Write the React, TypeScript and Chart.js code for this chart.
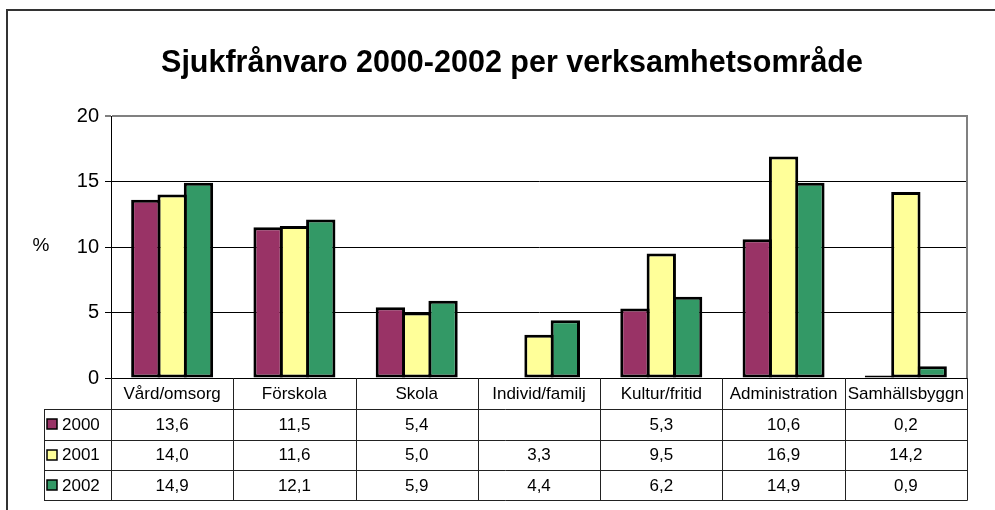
import React, { useEffect, useRef } from "react";
import { Chart, registerables } from "chart.js";

Chart.register(...registerables);

const TITLE = "Sjukfrånvaro 2000-2002 per verksamhetsområde";
const Y_LABEL = "%";
const categories = [
  "Vård/omsorg",
  "Förskola",
  "Skola",
  "Individ/familj",
  "Kultur/fritid",
  "Administration",
  "Samhällsbyggn",
];
const seriesNames = ["2000", "2001", "2002"];
const values2000: (number | null)[] = [13.6, 11.5, 5.4, null, 5.3, 10.6, 0.2];
const values2001: (number | null)[] = [14.0, 11.6, 5.0, 3.3, 9.5, 16.9, 14.2];
const values2002: (number | null)[] = [14.9, 12.1, 5.9, 4.4, 6.2, 14.9, 0.9];
const seriesColors = ["#993366", "#FFFF99", "#339966"];
const yTicks = [0, 5, 10, 15, 20];

const FONT = '"Liberation Sans", Arial, sans-serif';

const allSeries = [values2000, values2001, values2002];

const fmt = (v: number | null) => (v === null ? "" : v.toFixed(1).replace(".", ","));

const framePlugin = {
  id: "frame",
  beforeDraw(chart: any) {
    const { ctx, width, height } = chart;
    ctx.save();
    ctx.fillStyle = "#fff";
    ctx.fillRect(0, 0, width, height);
    ctx.strokeStyle = "#333";
    ctx.lineWidth = 2;
    ctx.beginPath();
    ctx.moveTo(7, height);
    ctx.lineTo(7, 10);
    ctx.lineTo(width, 10);
    ctx.stroke();
    ctx.fillStyle = "#000";
    ctx.font = `bold 30.5px ${FONT}`;
    ctx.textAlign = "center";
    ctx.textBaseline = "middle";
    ctx.fillText(TITLE, 512, 64);
    ctx.restore();
  },
  beforeDatasetsDraw(chart: any) {
    const { ctx, chartArea: ca } = chart;
    ctx.save();
    ctx.strokeStyle = "#808080";
    ctx.lineWidth = 2;
    ctx.beginPath();
    ctx.moveTo(ca.right, ca.top - 1);
    ctx.lineTo(ca.right, ca.bottom);
    ctx.stroke();
    ctx.restore();
  },
};

const tablePlugin = {
  id: "dataTable",
  afterDraw(chart: any) {
    const { ctx, chartArea: ca } = chart;
    const n = categories.length;
    const cw = (ca.right - ca.left) / n;
    const rows = [ca.bottom, 409, 439.5, 470, 500];
    const legendLeft = 44;
    ctx.save();
    ctx.strokeStyle = "#222";
    ctx.lineWidth = 1;
    ctx.beginPath();
    for (let r = 1; r < rows.length; r++) {
      const y = Math.round(rows[r]) + 0.5;
      ctx.moveTo(legendLeft, y);
      ctx.lineTo(ca.right + 0.5, y);
    }
    for (let i = 0; i <= n; i++) {
      const x = Math.round(ca.left + i * cw) + 0.5;
      ctx.moveTo(x, ca.bottom);
      ctx.lineTo(x, Math.round(rows[4]) + 0.5);
    }
    ctx.moveTo(legendLeft + 0.5, Math.round(rows[1]));
    ctx.lineTo(legendLeft + 0.5, Math.round(rows[4]) + 0.5);
    ctx.stroke();

    ctx.fillStyle = "#000";
    ctx.font = `17px ${FONT}`;
    ctx.textBaseline = "middle";
    ctx.textAlign = "center";
    for (let i = 0; i < n; i++) {
      const cx = ca.left + (i + 0.5) * cw;
      ctx.fillText(categories[i], cx, (rows[0] + rows[1]) / 2 + 1);
      for (let s = 0; s < allSeries.length; s++) {
        ctx.fillText(fmt(allSeries[s][i]), cx, (rows[s + 1] + rows[s + 2]) / 2 + 1);
      }
    }
    for (let s = 0; s < seriesNames.length; s++) {
      const cy = (rows[s + 1] + rows[s + 2]) / 2;
      ctx.fillStyle = seriesColors[s];
      ctx.fillRect(47, Math.round(cy - 5), 10, 10);
      ctx.strokeStyle = "#000";
      ctx.lineWidth = 1.5;
      ctx.strokeRect(47, Math.round(cy - 5), 10, 10);
      ctx.fillStyle = "#000";
      ctx.textAlign = "left";
      ctx.fillText(seriesNames[s], 62, cy + 1);
    }
    ctx.font = `19px ${FONT}`;
    ctx.textAlign = "center";
    ctx.fillText(Y_LABEL, 41, 246);
    ctx.restore();
  },
};

export default function App() {
  const ref = useRef<HTMLCanvasElement | null>(null);
  useEffect(() => {
    if (!ref.current) return;
    const chart = new Chart(ref.current, {
      type: "bar",
      data: {
        labels: categories,
        datasets: allSeries.map((vals, i) => ({
          label: seriesNames[i],
          data: vals,
          backgroundColor: seriesColors[i],
          borderColor: "#000",
          borderWidth: 3,
          borderSkipped: false,
          inflateAmount: 0,
          categoryPercentage: 0.646,
          barPercentage: 1.114,
        })),
      },
      options: {
        responsive: false,
        animation: false,
        layout: { padding: { top: 116, right: 28, bottom: 0, left: 0 } },
        plugins: {
          legend: { display: false },
          tooltip: { enabled: false },
          title: { display: false },
        },
        scales: {
          x: {
            grid: { display: false },
            ticks: { display: false },
            border: { color: "#000", width: 1 },
            afterFit: (s: any) => {
              s.height = 132;
            },
          },
          y: {
            min: yTicks[0],
            max: yTicks[yTicks.length - 1],
            afterBuildTicks: (s: any) => {
              s.ticks = yTicks.map((v) => ({ value: v }));
            },
            ticks: {
              color: "#000",
              font: { family: FONT, size: 20 },
              padding: 6,
            },
            grid: {
              color: (c: any) => (c.tick && c.tick.value === 20 ? "#808080" : "#000"),
              lineWidth: (c: any) => (c.tick && c.tick.value === 20 ? 2 : 1),
              tickColor: "#000",
              tickLength: 6,
              tickWidth: 1,
            },
            border: { color: "#000", width: 1 },
            afterFit: (s: any) => {
              s.width = 111;
            },
          },
        },
      } as any,
      plugins: [framePlugin, tablePlugin],
    });
    return () => chart.destroy();
  }, []);
  return (
    <div style={{ position: "absolute", left: 0, top: 0, width: 995, height: 510 }}>
      <canvas ref={ref} width={995} height={510} />
    </div>
  );
}
